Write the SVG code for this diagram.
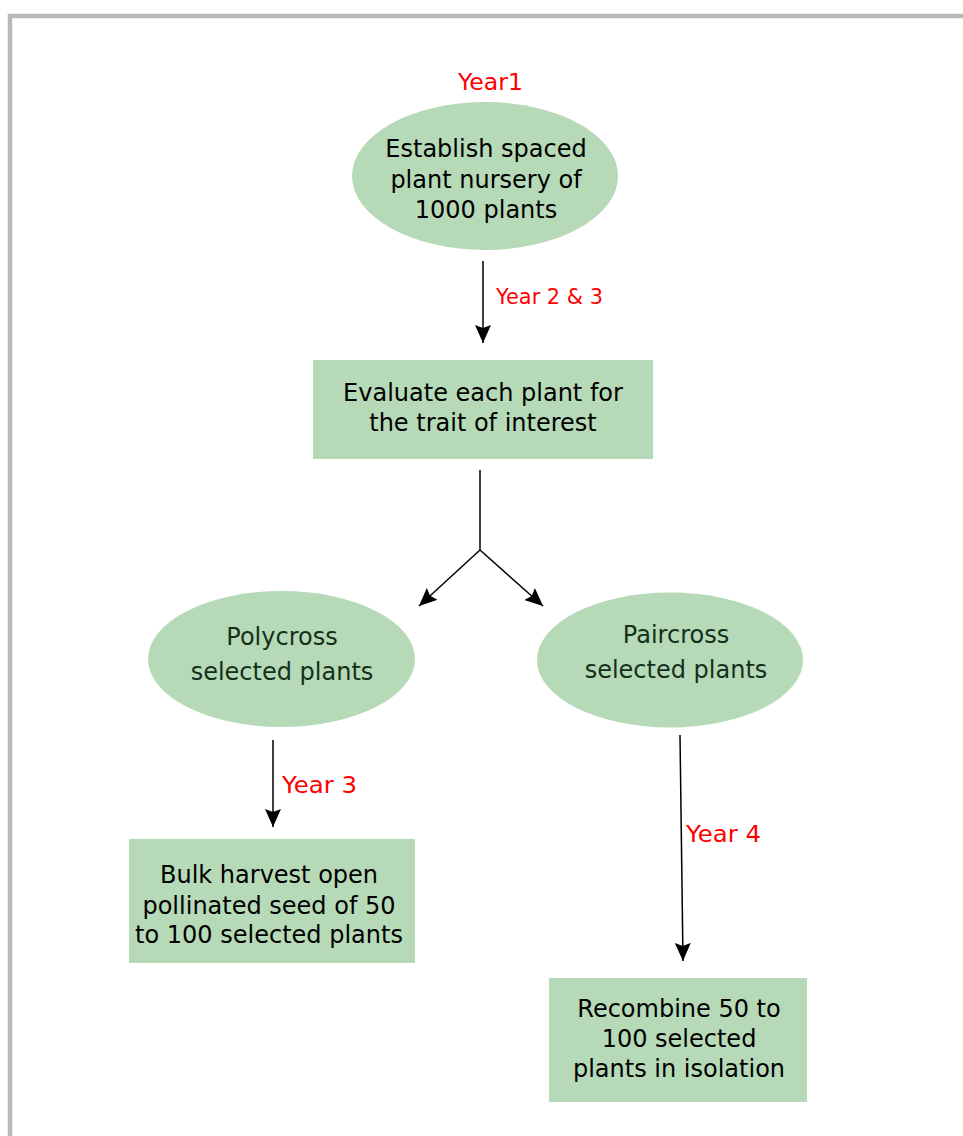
<svg xmlns="http://www.w3.org/2000/svg" width="963" height="1136" viewBox="0 0 963 1136">
<style>
.node{fill:#b6dab7;stroke:none}
.t{font-family:"DejaVu Sans","Verdana",sans-serif;font-size:24px;fill:#000;text-anchor:middle}
.g{fill:#13301a}
.r{font-family:"DejaVu Sans","Verdana",sans-serif;font-size:22.5px;fill:#ff0000}
.c{stroke:#000;stroke-width:1.5;fill:none}
.frame{stroke:#b8b8b8;stroke-width:4.5;fill:none}
</style>
<defs>
<marker id="ah" markerUnits="userSpaceOnUse" markerWidth="19" markerHeight="17" refX="18" refY="8" orient="auto">
<path d="M0,0 L18,8 L0,16 L3,8 z" fill="#000"/>
</marker>
</defs>
<rect width="963" height="1136" fill="#fff"/>
<path class="frame" d="M10,1136 L10,16 L963,16"/>

<g id="connectors">
<line class="c" x1="483" y1="261" x2="483" y2="343" marker-end="url(#ah)"/>
<polyline class="c" points="480,470 480,550"/>
<line class="c" x1="480" y1="550" x2="419" y2="606" marker-end="url(#ah)"/>
<line class="c" x1="480" y1="550" x2="543" y2="606" marker-end="url(#ah)"/>
<line class="c" x1="273" y1="740" x2="273" y2="827" marker-end="url(#ah)"/>
<line class="c" x1="680" y1="735" x2="683" y2="961" marker-end="url(#ah)"/>
</g>

<g id="labels">
<text class="r" x="458" y="90" textLength="65" lengthAdjust="spacingAndGlyphs">Year1</text>
<text class="r" x="496" y="304" style="font-size:22px" textLength="107" lengthAdjust="spacingAndGlyphs">Year 2 &amp; 3</text>
<text class="r" x="282" y="793" textLength="75" lengthAdjust="spacingAndGlyphs">Year 3</text>
<text class="r" x="686" y="842" textLength="75" lengthAdjust="spacingAndGlyphs">Year 4</text>
</g>

<g id="n1">
<ellipse class="node" cx="485" cy="176" rx="133" ry="74"/>
<text class="t" x="486" y="157">Establish spaced</text>
<text class="t" x="486" y="188">plant nursery of</text>
<text class="t" x="486" y="218">1000 plants</text>
</g>

<g id="n2">
<rect class="node" x="313" y="360" width="340" height="99"/>
<text class="t" x="483" y="401">Evaluate each plant for</text>
<text class="t" x="483" y="431">the trait of interest </text>
</g>

<g id="n3">
<ellipse class="node" cx="281.5" cy="659" rx="133.5" ry="68"/>
<text class="t g" x="282" y="645">Polycross</text>
<text class="t g" x="282" y="680">selected plants</text>
</g>

<g id="n4">
<ellipse class="node" cx="670" cy="660" rx="133" ry="67.5"/>
<text class="t g" x="676" y="643">Paircross</text>
<text class="t g" x="676" y="678">selected plants</text>
</g>

<g id="n5">
<rect class="node" x="129" y="839" width="286" height="124"/>
<text class="t" x="269" y="883">Bulk harvest open</text>
<text class="t" x="269" y="914">pollinated seed of 50</text>
<text class="t" x="269" y="943">to 100 selected plants</text>
</g>

<g id="n6">
<rect class="node" x="549" y="978" width="258" height="124"/>
<text class="t" x="679" y="1017">Recombine 50 to</text>
<text class="t" x="679" y="1047">100 selected</text>
<text class="t" x="679" y="1077">plants in isolation</text>
</g>
</svg>
